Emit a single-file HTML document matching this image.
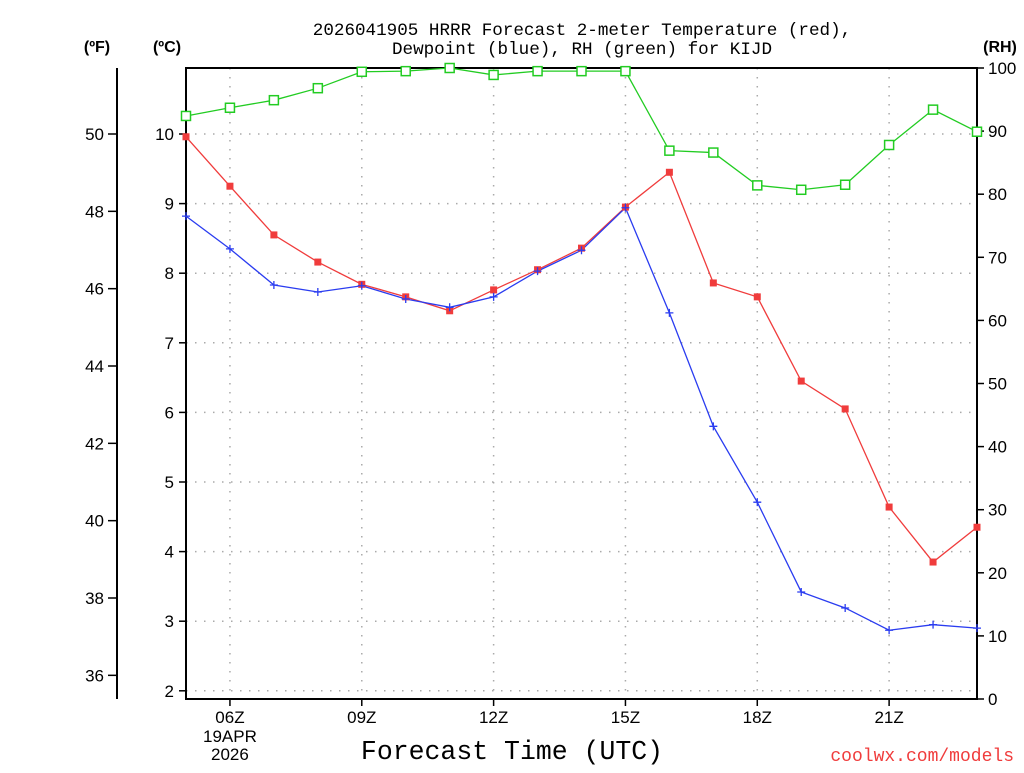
<!DOCTYPE html>
<html><head><meta charset="utf-8"><style>
body{margin:0;background:#fff;}
svg text{font-family:"Liberation Sans",sans-serif;}
svg text.mono{font-family:"Liberation Mono",monospace;}
</style></head><body>
<svg id="chart" width="1024" height="768" xmlns="http://www.w3.org/2000/svg">
<rect width="1024" height="768" fill="#fff"/>
<g id="grid"></g>
<g id="axes"></g>
<g id="series"></g>
<text class="mono" x="582" y="35" text-anchor="middle" font-size="17.6" fill="#000">2026041905 HRRR Forecast 2-meter Temperature (red),</text>
<text class="mono" x="582" y="54" text-anchor="middle" font-size="17.6" fill="#000">Dewpoint (blue), RH (green) for KIJD</text>
<text x="97" y="52" text-anchor="middle" font-size="16" font-weight="bold">(ºF)</text>
<text x="167" y="52" text-anchor="middle" font-size="16" font-weight="bold">(ºC)</text>
<text x="1000" y="52" text-anchor="middle" font-size="16" font-weight="bold">(RH)</text>
<text class="mono" x="512" y="759" text-anchor="middle" font-size="26.5">Forecast Time (UTC)</text>
<text class="mono" x="1014" y="761" text-anchor="end" font-size="18" fill="#f03c3c">coolwx.com/models</text>
</svg>
<script>
const hours=[5,6,7,8,9,10,11,12,13,14,15,16,17,18,19,20,21,22,23];
const tempC=[9.96,9.25,8.55,8.16,7.84,7.66,7.46,7.76,8.05,8.36,8.95,9.45,7.86,7.66,6.45,6.05,4.64,3.85,4.35];
const dewC=[8.82,8.35,7.83,7.73,7.82,7.63,7.51,7.66,8.03,8.33,8.94,7.43,5.80,4.71,3.42,3.19,2.87,2.95,2.90];
const rh=[92.4,93.7,94.9,96.8,99.4,99.5,100,98.9,99.5,99.5,99.5,86.9,86.6,81.4,80.7,81.5,87.8,93.4,89.9];
const cTicks=[2,3,4,5,6,7,8,9,10];
const fTicks=[36,38,40,42,44,46,48,50];
const rhTicks=[0,10,20,30,40,50,60,70,80,90,100];
const xTicks=[6,9,12,15,18,21];
const xTickLabels=["06Z","09Z","12Z","15Z","18Z","21Z"];

const L=186,R=977,T=68,B=699;
const X=h=>L+(h-5)*(R-L)/18;
const YC=c=>134+(10-c)*69.6;
const YF=f=>YC((f-32)*5/9);
const YR=r=>B-r*(B-T)/100;
const NS="http://www.w3.org/2000/svg";
function mk(p,tag,a){const e=document.createElementNS(NS,tag);for(const k in a)e.setAttribute(k,a[k]);p.appendChild(e);return e;}
const grid=document.getElementById('grid'),axes=document.getElementById('axes'),ser=document.getElementById('series');
const dot={stroke:"#aaa","stroke-width":1.5,"stroke-dasharray":"1.5,7.5"};
cTicks.forEach(c=>{const l=mk(grid,'line',Object.assign({x1:L,x2:R,y1:YC(c),y2:YC(c)},dot));

});
xTicks.forEach(h=>{const l=mk(grid,'line',Object.assign({x1:X(h),x2:X(h),y1:T,y2:B},dot));

});
const fr=mk(axes,'rect',{x:L,y:T,width:R-L,height:B-T,fill:"none",stroke:"#000","stroke-width":2});


const fl=mk(axes,'line',{x1:117,x2:117,y1:T,y2:B,stroke:"#000","stroke-width":2});


cTicks.forEach(c=>{mk(axes,'line',{x1:L-7,x2:L,y1:YC(c),y2:YC(c),stroke:"#000","stroke-width":1.5});
const t=mk(axes,'text',{x:L-12,y:YC(c)+6,"text-anchor":"end","font-size":17});t.textContent=c;

});
fTicks.forEach(f=>{mk(axes,'line',{x1:108,x2:117,y1:YF(f),y2:YF(f),stroke:"#000","stroke-width":1.5});
const t=mk(axes,'text',{x:104,y:YF(f)+6,"text-anchor":"end","font-size":17});t.textContent=f;

});
rhTicks.forEach(r=>{mk(axes,'line',{x1:R,x2:R+7,y1:YR(r),y2:YR(r),stroke:"#000","stroke-width":1.5});
const t=mk(axes,'text',{x:R+11,y:YR(r)+6,"text-anchor":"start","font-size":17});t.textContent=r;

});
xTicks.forEach((h,i)=>{mk(axes,'line',{x1:X(h),x2:X(h),y1:B,y2:B+7,stroke:"#000","stroke-width":1.5});
const t=mk(axes,'text',{x:X(h),y:B+24,"text-anchor":"middle","font-size":17});t.textContent=xTickLabels[i];

});
const d1=mk(axes,'text',{x:X(6),y:B+43,"text-anchor":"middle","font-size":17});d1.textContent="19APR";


const d2=mk(axes,'text',{x:X(6),y:B+61,"text-anchor":"middle","font-size":17});d2.textContent="2026";


function line(vals,yf,col,name){const pts=vals.map((v,i)=>X(hours[i])+","+yf(v)).join(" ");
const p=mk(ser,'polyline',{points:pts,fill:"none",stroke:col,"stroke-width":1.3});

}
line(rh,YR,"#22cc22","rh-line");
line(tempC,YC,"#f03c3c","temperature-line");
line(dewC,YC,"#2a3cf0","dewpoint-line");
rh.forEach((v,i)=>{const m=mk(ser,'rect',{x:X(hours[i])-4.5,y:YR(v)-4.5,width:9,height:9,fill:"#fff",stroke:"#22cc22","stroke-width":1.5});

});
tempC.forEach((v,i)=>{const m=mk(ser,'rect',{x:X(hours[i])-3.5,y:YC(v)-3.5,width:7,height:7,fill:"#f03c3c"});

});
dewC.forEach((v,i)=>{const x=X(hours[i]),y=YC(v);
const m=mk(ser,'path',{d:`M${x-4},${y}H${x+4}M${x},${y-4}V${y+4}`,stroke:"#2a3cf0","stroke-width":1.3});

});
</script>
</body></html>
